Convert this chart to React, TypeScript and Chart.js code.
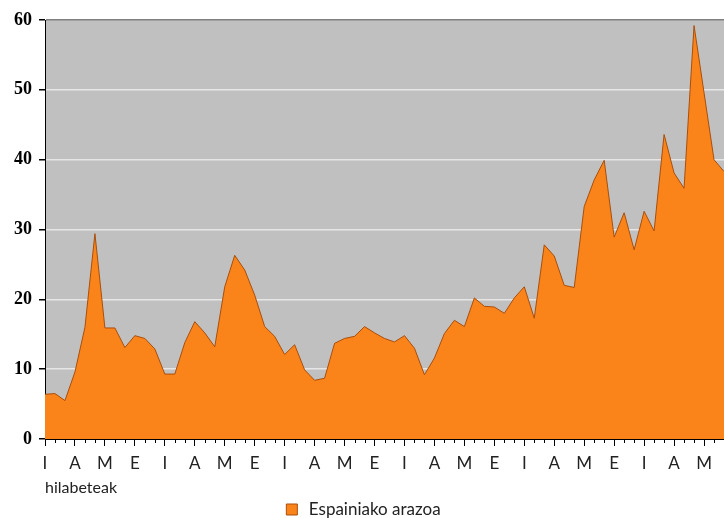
import React, { useEffect, useRef } from 'react';
import { Chart, registerables } from 'chart.js';

Chart.register(...registerables);

// Monthly values
const values = [
  6.4, 6.5, 5.5, 9.6, 16, 29.4, 15.9, 15.9, 13.1, 14.8,
  14.4, 12.9, 9.3, 9.3, 13.8, 16.8, 15.2, 13.2, 21.8, 26.3,
  24.2, 20.6, 16.1, 14.7, 12.1, 13.5, 9.9, 8.4, 8.7, 13.7,
  14.4, 14.7, 16.1, 15.2, 14.4, 13.9, 14.8, 13.0, 9.2, 11.6,
  15.1, 17.0, 16.1, 20.2, 19.0, 18.9, 18.0, 20.2, 21.8, 17.3,
  27.8, 26.2, 22.0, 21.7, 33.3, 37.1, 39.9, 28.9, 32.4, 27.1,
  32.6, 29.8, 43.6, 38.1, 35.9, 59.2, 49.6, 40.0, 38.3,
];

// Quarter letters shown every third month
const quarterLetters = ['I', 'A', 'M', 'E'];
const categories = values.map((_, i) =>
  i % 3 === 0 ? quarterLetters[(i / 3) % 4] : ''
);

const seriesName = 'Espainiako arazoa';
const xTitle = 'hilabeteak';
const yMin = 0;
const yMax = 60;
const yStep = 10;

export default function App() {
  const ref = useRef<HTMLCanvasElement>(null);

  useEffect(() => {
    if (!ref.current) return;

    const plotBg = {
      id: 'plotBg',
      beforeDraw(chart: any) {
        const { ctx, chartArea: a } = chart;
        ctx.save();
        ctx.fillStyle = '#c0c0c0';
        ctx.fillRect(a.left, a.top, a.right - a.left, a.bottom - a.top);
        ctx.restore();
      },
    };

    const minorTicks = {
      id: 'minorTicks',
      afterDraw(chart: any) {
        const xs = chart.scales.x;
        const ctx = chart.ctx;
        ctx.save();
        ctx.strokeStyle = '#000';
        ctx.lineWidth = 1;
        xs.ticks.forEach((_t: any, i: number) => {
          if (i % 3 !== 0) {
            const px = Math.round(xs.getPixelForTick(i)) + 0.5;
            ctx.beginPath();
            ctx.moveTo(px, xs.top);
            ctx.lineTo(px, xs.top + 4);
            ctx.stroke();
          }
        });
        ctx.restore();
      },
    };

    const chart = new Chart(ref.current, {
      type: 'line',
      data: {
        labels: categories,
        datasets: [
          {
            label: seriesName,
            data: values,
            fill: 'origin',
            backgroundColor: '#fa841a',
            borderColor: '#a94e0c',
            borderWidth: 1,
            pointRadius: 0,
            tension: 0,
          },
        ],
      },
      options: {
        responsive: false,
        animation: false,
        layout: { padding: { top: 20, left: 0, right: 0, bottom: 0 } },
        plugins: {
          tooltip: { enabled: false },
          legend: {
            position: 'bottom',
            labels: {
              usePointStyle: true,
              pointStyle: 'rect',
              boxWidth: 17,
              boxHeight: 11,
              padding: 5,
              color: '#222',
              font: { family: 'Lato', size: 17 },
            },
          },
        },
        scales: {
          x: {
            type: 'category',
            offset: false,
            grid: {
              drawOnChartArea: false,
              tickLength: 7,
              lineWidth: 1,
              tickColor: (c: any) => (c.index % 3 === 0 ? '#000' : 'rgba(0,0,0,0)'),
            },
            border: { color: '#000', width: 1 },
            ticks: {
              autoSkip: false,
              maxRotation: 0,
              minRotation: 0,
              padding: 7,
              color: '#222',
              font: { family: 'Lato', size: 17 },
            },
            title: {
              display: true,
              text: xTitle,
              align: 'start',
              color: '#222',
              padding: 0,
              font: { family: 'Lato', size: 16, lineHeight: 1 },
            },
            afterFit(s: any) {
              s.height = 57;
              s.paddingLeft = 0;
              s.paddingRight = 0;
            },
          },
          y: {
            min: yMin,
            max: yMax,
            ticks: {
              stepSize: yStep,
              padding: 7,
              color: '#000',
              font: { family: 'Liberation Serif', size: 18, weight: 'bold' },
            },
            grid: {
              color: (c: any) =>
                c.tick.value === yMax ? '#808080' : c.tick.value === yMin ? '#000' : '#e6e6e6',
              lineWidth: 1.5,
              tickLength: 6,
              tickColor: '#000',
            },
            border: { color: '#000', width: 1 },
            afterFit(s: any) {
              s.width = 45;
            },
          },
        },
      },
      plugins: [plotBg, minorTicks],
    } as any);

    return () => chart.destroy();
  }, []);

  return (
    <div
      style={{
        position: 'fixed',
        left: 0,
        top: 0,
        width: 724,
        height: 518,
        overflow: 'hidden',
        background: '#fff',
      }}
    >
      <canvas ref={ref} width={724} height={528} style={{ display: 'block' }} />
    </div>
  );
}
